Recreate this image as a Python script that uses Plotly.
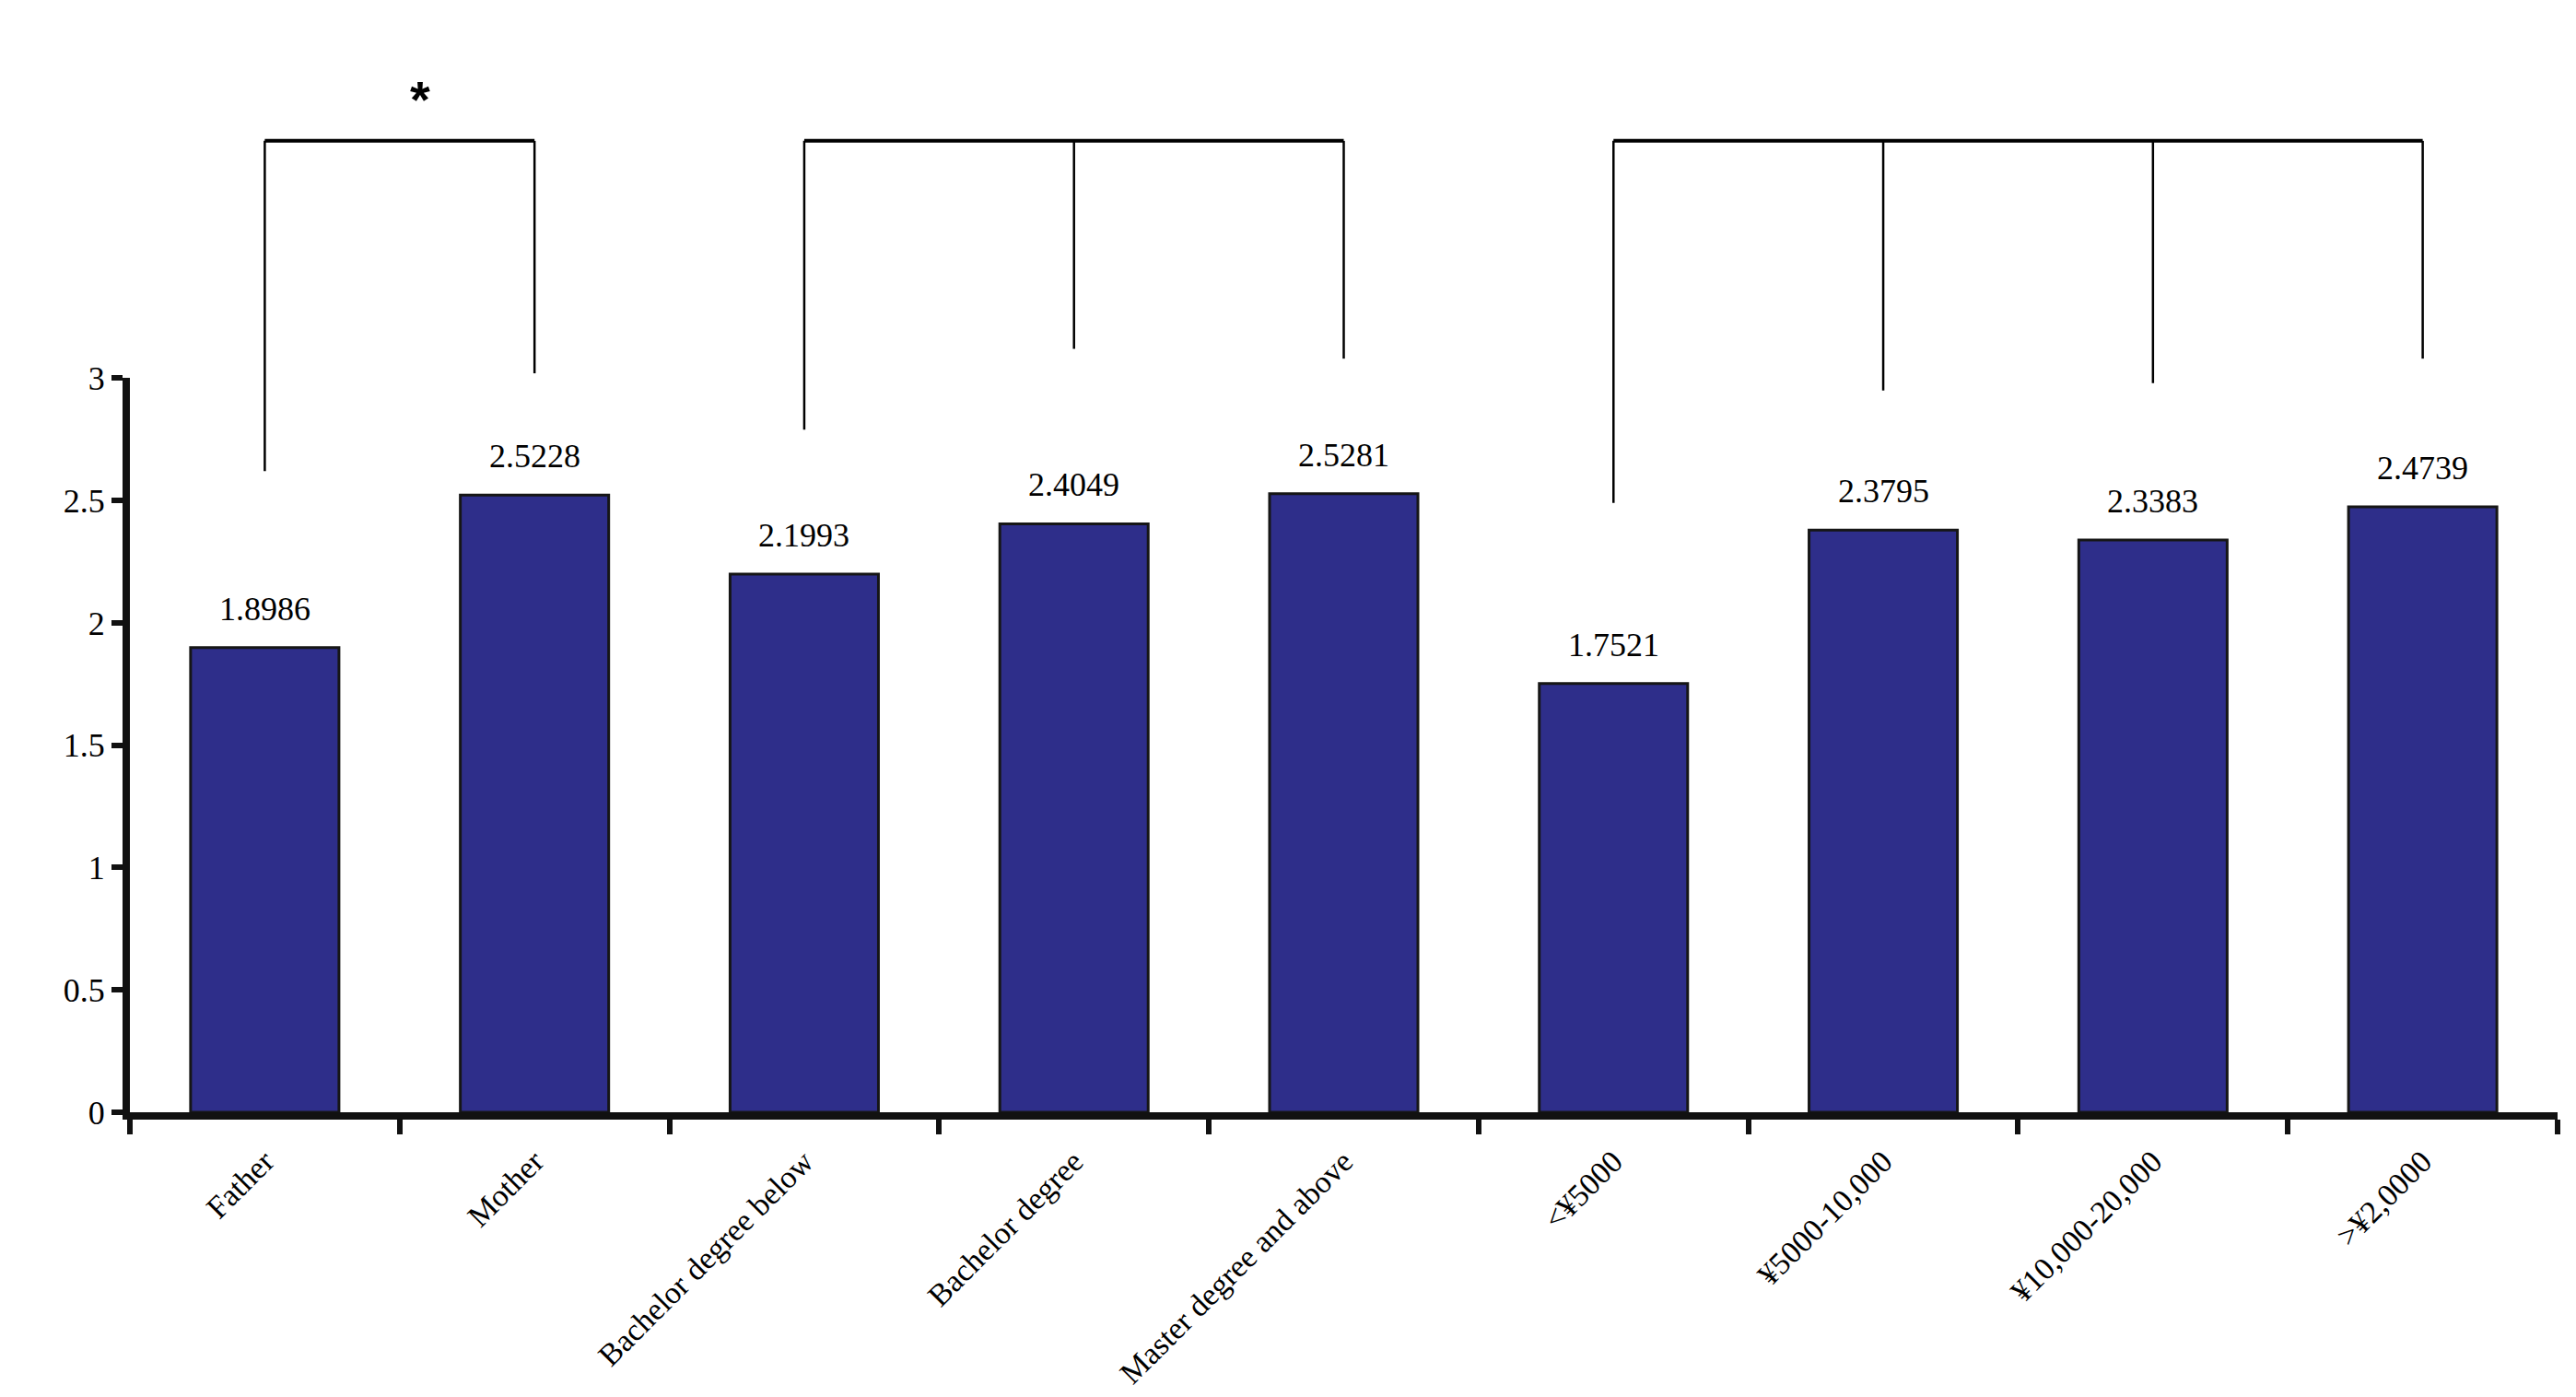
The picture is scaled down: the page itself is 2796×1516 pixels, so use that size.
import plotly.graph_objects as go

# data
categories = ["Father", "Mother", "Bachelor degree below", "Bachelor degree",
              "Master degree and above", "<¥5000", "¥5000-10,000",
              "¥10,000-20,000", ">¥2,0000"]
scores = [1.8986, 2.5228, 2.1993, 2.4049, 2.5281, 1.7521, 2.3795, 2.3383, 2.4739]

# significance brackets: which bars, where each leg ends, and the marker above
bracket_groups = [[0, 1], [2, 3, 4], [5, 6, 7, 8]]
bracket_top = 3.97
leg_bottoms = [[2.62, 3.02], [2.79, 3.12, 3.08], [2.49, 2.95, 2.98, 3.08]]
bracket_marks = ["*", "", ""]

FONT = "Liberation Serif"
BAR_COLOR = "#2E2E8A"

# main axis covers 0..3, the bracket axis spans the whole height at the same scale
MAIN_FRAC = 0.682
Y2_TOP = 3 / MAIN_FRAC

x_idx = list(range(len(categories)))

fig = go.Figure()
fig.add_trace(go.Bar(
    x=x_idx, y=scores, width=0.55,
    marker=dict(color=BAR_COLOR, line=dict(color="#161616", width=3)),
    hoverinfo="x+y", showlegend=False))

for legs, bottoms in zip(bracket_groups, leg_bottoms):
    fig.add_trace(go.Scatter(
        x=[legs[0], legs[-1]], y=[bracket_top, bracket_top], yaxis="y2",
        mode="lines", line=dict(color="black", width=4),
        hoverinfo="skip", showlegend=False))
    xs, ys = [], []
    for i, b in zip(legs, bottoms):
        xs += [i, i, None]
        ys += [bracket_top, b, None]
    fig.add_trace(go.Scatter(
        x=xs, y=ys, yaxis="y2", mode="lines",
        line=dict(color="black", width=2.5),
        hoverinfo="skip", showlegend=False))

annotations = []
for i, v in zip(x_idx, scores):
    annotations.append(dict(
        x=i, y=v, xref="x", yref="y", text=f"{v:.4f}", showarrow=False,
        yanchor="bottom", yshift=20, font=dict(family=FONT, size=36, color="black")))

for legs, mark in zip(bracket_groups, bracket_marks):
    if mark:
        annotations.append(dict(
            x=(legs[0] + legs[-1]) / 2, y=bracket_top, xref="x", yref="y2",
            text=f"<b>{mark}</b>", showarrow=False, yanchor="bottom",
            yshift=12, xshift=22,
            font=dict(family="Liberation Sans", size=56, color="black")))

fig.update_layout(
    width=2796, height=1516,
    margin=dict(l=133, r=28, t=20, b=317),
    paper_bgcolor="white", plot_bgcolor="rgba(0,0,0,0)",
    font=dict(family=FONT, size=36, color="black"),
    bargap=0.45,
    annotations=annotations,
    xaxis=dict(
        range=[-0.5, 8.5], tickmode="array", tickvals=x_idx, ticktext=categories,
        tickangle=-45, tickfont=dict(family=FONT, size=34),
        ticks="", showgrid=False, zeroline=False,
        showline=True, linecolor="#111111", linewidth=8,
        ticklabelstandoff=12,
        minor=dict(tickmode="linear", tick0=-0.5, dtick=1, ticks="outside",
                   ticklen=16, tickwidth=6, tickcolor="#111111", showgrid=False),
    ),
    yaxis=dict(
        domain=[0, MAIN_FRAC], range=[0, 3], dtick=0.5, tick0=0,
        ticks="outside", ticklen=12, tickwidth=6, tickcolor="#111111",
        showline=True, linecolor="#111111", linewidth=8,
        showgrid=False, zeroline=False, tickfont=dict(family=FONT, size=36),
    ),
    yaxis2=dict(domain=[0, 1], range=[0, Y2_TOP], anchor="x", visible=False),
)

fig.write_html("out.html")
